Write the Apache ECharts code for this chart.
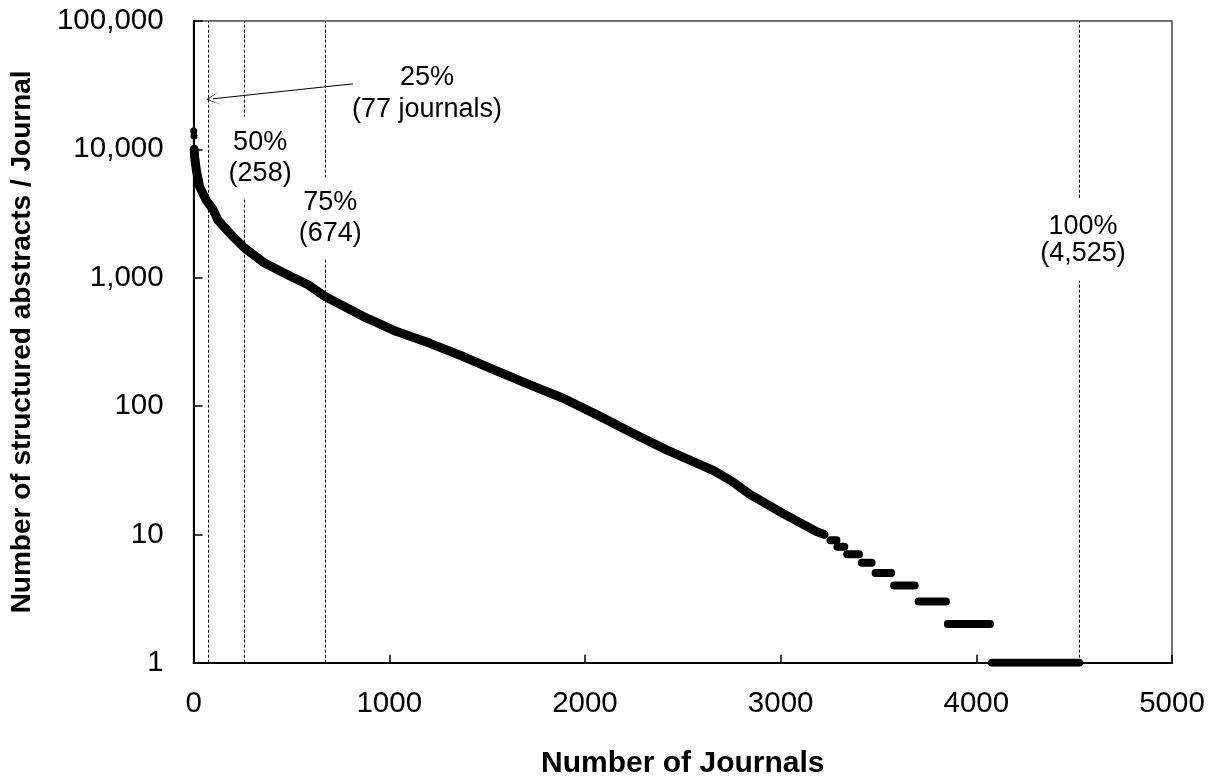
<!DOCTYPE html>
<html>
<head>
<meta charset="utf-8">
<script src="https://cdn.jsdelivr.net/npm/echarts@6/dist/echarts.min.js"></script>
<style>
  html, body { margin: 0; padding: 0; background: #fff; }
  #chart { width: 1213px; height: 779px; }
</style>
</head>
<body>
<div id="chart"></div>
<script>
// journal rank vs. number of structured abstracts
const topX = [1, 2]
const topY = [13900, 12700]

const curveX = [3, 5, 14, 31, 65, 99, 125, 193, 261, 363, 482, 585, 674, 866, 1038, 1208, 1378, 1515, 1719, 1889, 2077, 2247, 2417, 2588, 2655, 2750, 2843, 3013, 3184, 3222]
const curveY = [10000, 8800, 6900, 5100, 4000, 3400, 2800, 2150, 1700, 1300, 1050, 880, 710, 500, 380, 308, 243, 197, 146, 115, 83, 61, 45.5, 35, 31.5, 26, 20.5, 14.5, 10.5, 10]

// tail: runs of journals sharing the same small count
const stepValue = [9, 8, 7, 6, 5, 4, 3, 2, 1]
const stepStart = [3255, 3290, 3340, 3415, 3485, 3580, 3705, 3855, 4080]
const stepEnd = [3285, 3325, 3400, 3465, 3565, 3685, 3845, 4070, 4525]

// cumulative share markers
const cutX = [77, 258, 674, 4525]
const noteText = ['25%\n(77 journals)', '50%\n(258)', '75%\n(674)', '100%\n(4,525)']

// where the notes sit (data coords) and how much of the dashed line they hide
const notePos = [[1193, 27080], [340, 8588], [698, 2899], [4545, 1971]]
const notePad = [[0, 0, 0, 0], [9.5, 6, 10.5, 6], [8.5, 6, 10.5, 6], [7.5, 6, 20.5, 6]]
const noteLine = [32, 31, 31, 27]
const arrowFrom = [815, 32400]
const arrowTo = [99, 24770]

const FONT = '"Liberation Sans", Arial, sans-serif'

const chart = echarts.init(document.getElementById('chart'))

const stepSeries = stepValue.map((v, i) => ({
  type: 'line',
  data: [[stepStart[i], v], [stepEnd[i], v]],
  showSymbol: false,
  lineStyle: { color: '#000', width: 8, cap: 'round' },
  z: 5,
  silent: true
}))

const option = {
  animation: false,
  grid: {
    left: 193.6,
    right: 41,
    top: 21,
    bottom: 116.3,
    containLabel: false,
    outerBoundsMode: 'none',
    show: true,
    borderColor: '#444',
    borderWidth: 1.5,
    backgroundColor: '#fff'
  },
  xAxis: {
    type: 'value',
    min: 0,
    max: 5000,
    interval: 1000,
    name: 'Number of Journals',
    nameLocation: 'middle',
    nameGap: 86,
    nameTextStyle: { fontFamily: FONT, fontSize: 30, fontWeight: 'bold', color: '#000' },
    axisLine: { show: true, lineStyle: { color: '#000', width: 2 } },
    axisTick: { show: true, inside: true, length: 8, lineStyle: { color: '#000', width: 1.5 } },
    axisLabel: { fontFamily: FONT, fontSize: 29.5, color: '#000', margin: 26, formatter: v => String(v) },
    splitLine: { show: false }
  },
  yAxis: {
    type: 'log',
    logBase: 10,
    min: 1,
    max: 100000,
    name: 'Number of structured abstracts / Journal',
    nameLocation: 'middle',
    nameGap: 157,
    nameTextStyle: { fontFamily: FONT, fontSize: 28, fontWeight: 'bold', color: '#000' },
    axisLine: { show: true, lineStyle: { color: '#000', width: 2 } },
    axisTick: { show: true, inside: true, length: 9, lineStyle: { color: '#000', width: 1.5 } },
    axisLabel: {
      fontFamily: FONT,
      fontSize: 29.5,
      color: '#000',
      margin: 30,
      formatter: v => Number(v).toLocaleString('en-US')
    },
    splitLine: { show: false }
  },
  series: [
    {
      // dashed cut lines (kept under everything else)
      type: 'line',
      data: [],
      z: 1,
      markLine: {
        z: 1,
        silent: true,
        symbol: 'none',
        label: { show: false },
        lineStyle: { color: '#000', width: 1, type: [3, 2] },
        data: cutX.map(x => ({ xAxis: x }))
      }
    },
    {
      // arrow pointing at the 25% line
      type: 'line',
      data: [],
      z: 6,
      markLine: {
        z: 6,
        silent: true,
        symbol: ['none', 'path://M0,10 L5,0 L10,10 L5,1.6 Z'],
        symbolSize: [13, 14],
        label: { show: false },
        lineStyle: { color: '#000', width: 1, type: 'solid' },
        data: [[{ coord: arrowFrom }, { coord: arrowTo }]]
      }
    },
    {
      // notes, with white boxes that break the dashed lines
      type: 'scatter',
      z: 4,
      symbolSize: 1,
      itemStyle: { color: 'rgba(0,0,0,0)', opacity: 1 },
      silent: true,
      data: notePos.map((p, i) => ({
        value: p,
        label: {
          show: true,
          position: 'inside',
          formatter: noteText[i],
          fontFamily: FONT,
          fontSize: 27,
          lineHeight: noteLine[i],
          color: '#000',
          opacity: 1,
          align: 'center',
          backgroundColor: i === 0 ? 'transparent' : '#fff',
          padding: notePad[i]
        }
      }))
    },
    {
      type: 'line',
      data: curveX.map((x, i) => [x, curveY[i]]),
      showSymbol: false,
      lineStyle: { color: '#000', width: 9, cap: 'round', join: 'round' },
      z: 5,
      silent: true
    },
    {
      type: 'scatter',
      data: topX.map((x, i) => [x, topY[i]]),
      symbolSize: 7,
      itemStyle: { color: '#000', opacity: 1 },
      z: 5,
      silent: true
    },
    ...stepSeries
  ]
}

chart.setOption(option)
</script>
</body>
</html>
